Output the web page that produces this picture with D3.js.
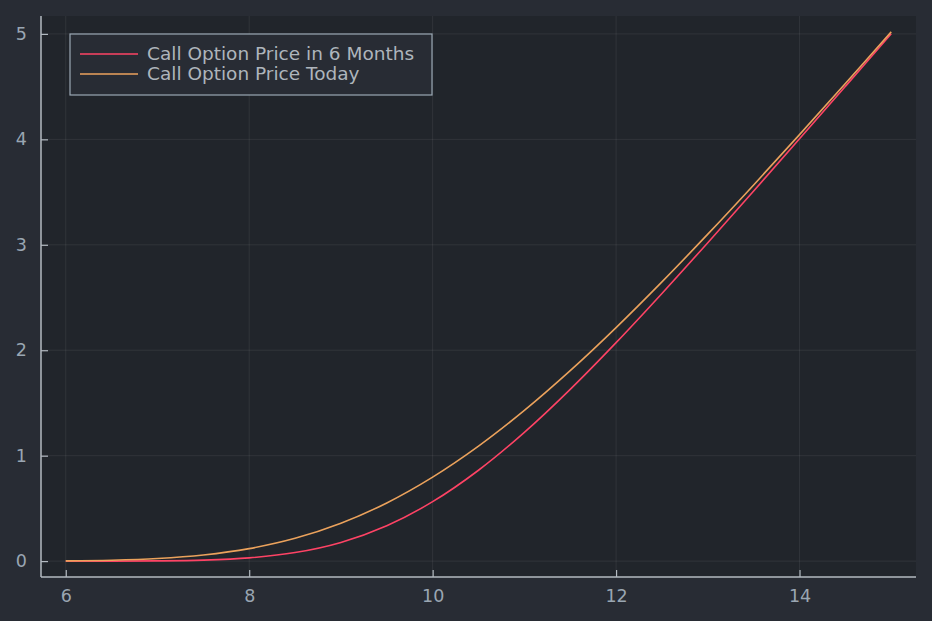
<!DOCTYPE html>
<html>
<head>
<meta charset="utf-8">
<script src="https://cdn.jsdelivr.net/npm/d3@7"></script>
<style>
  html, body { margin: 0; padding: 0; background: #282c34; }
  svg { display: block; }
  text { font-family: "DejaVu Sans", sans-serif; }
</style>
</head>
<body>
<svg id="chart" width="932" height="621"></svg>
<script>
// Stock prices (x) at which the call price is read
const stockPrices = [6, 6.5, 7, 7.5, 8, 8.5, 9, 9.5, 10, 10.5, 11, 11.5, 12, 12.5, 13, 13.5, 14, 14.5, 15];
// Call option price in 6 months
const priceIn6Months = [0.0000, 0.0004, 0.0022, 0.0095, 0.0309, 0.0810, 0.1773, 0.3353, 0.5637, 0.8618, 1.2211, 1.6290, 2.0720, 2.5387, 3.0200, 3.5100, 4.0048, 4.5023, 5.0011];
// Call option price today
const priceToday = [0.0026, 0.0089, 0.0248, 0.0581, 0.1186, 0.2161, 0.3589, 0.5519, 0.7966, 1.0906, 1.4292, 1.8062, 2.2147, 2.6482, 3.1009, 3.5678, 4.0450, 4.5296, 5.0192];
const seriesNames = ["Call Option Price in 6 Months", "Call Option Price Today"];
const seriesColors = ["#fe4365", "#eba25c"];
const xTicks = [6, 8, 10, 12, 14];
const yTicks = [0, 1, 2, 3, 4, 5];

(function () {
const svg = d3.select("#chart");
const W = 932, H = 621;
const pL = 41, pR = 916, pT = 16, pB = 577;

svg.append("rect").attr("width", W).attr("height", H).attr("fill", "#282c34");
svg.append("rect").attr("x", pL).attr("y", pT).attr("width", pR - pL).attr("height", pB - pT).attr("fill", "#21252b");

const xMin = d3.min(stockPrices), xMax = d3.max(stockPrices);
const xPad = (xMax - xMin) * 0.03;
const allY = priceIn6Months.concat(priceToday);
const yMin = d3.min(allY), yMax = d3.max(allY);
const yPad = (yMax - yMin) * 0.03;

const x = d3.scaleLinear().domain([xMin - xPad, xMax + xPad]).range([pL, pR]);
const y = d3.scaleLinear().domain([yMin - yPad, yMax + yPad]).range([pB, pT]);

// grid
const grid = svg.append("g");
grid.selectAll(".gx").data(xTicks).enter().append("line")
  .attr("x1", d => x(d)).attr("x2", d => x(d)).attr("y1", pT).attr("y2", pB)
  .attr("stroke", "#ffffff").attr("stroke-opacity", 0.07).attr("stroke-width", 1);
grid.selectAll(".gy").data(yTicks).enter().append("line")
  .attr("x1", pL).attr("x2", pR).attr("y1", d => y(d)).attr("y2", d => y(d))
  .attr("stroke", "#ffffff").attr("stroke-opacity", 0.07).attr("stroke-width", 1);

// axes
const axisColor = "#b3bac1";
const tickColor = "#9aa6b2";
const xAxis = svg.append("g").attr("transform", `translate(0,${pB})`)
  .call(d3.axisBottom(x).tickValues(xTicks).tickSize(-7).tickPadding(13).tickFormat(d3.format("d")));
const yAxis = svg.append("g").attr("transform", `translate(${pL},0)`)
  .call(d3.axisLeft(y).tickValues(yTicks).tickSize(-7).tickPadding(14).tickFormat(d3.format("d")));
[xAxis, yAxis].forEach(g => {
  g.select(".domain").remove();
  g.selectAll(".tick line").attr("stroke", axisColor).attr("stroke-width", 1.2);
  g.selectAll(".tick text").attr("fill", tickColor).attr("font-size", 17.5).attr("font-family", "DejaVu Sans, sans-serif");
});
svg.append("line").attr("x1", pL).attr("x2", pL).attr("y1", pT).attr("y2", pB)
  .attr("stroke", axisColor).attr("stroke-width", 1.5);
svg.append("line").attr("x1", pL).attr("x2", pR).attr("y1", pB).attr("y2", pB)
  .attr("stroke", axisColor).attr("stroke-width", 1.5);

// lines
const line = d3.line().x((d, i) => x(stockPrices[i])).y(d => y(d)).curve(d3.curveCatmullRom.alpha(0.5));
[priceIn6Months, priceToday].forEach((s, i) => {
  svg.append("path").datum(s).attr("d", line).attr("fill", "none")
    .attr("stroke", seriesColors[i]).attr("stroke-width", 1.6);
});

// legend
const lg = svg.append("g");
lg.append("rect").attr("x", 70).attr("y", 34).attr("width", 362).attr("height", 61)
  .attr("fill", "#282c34").attr("stroke", "#9aa8b4").attr("stroke-width", 1.2);
seriesNames.forEach((name, i) => {
  const ly = 54 + i * 20;
  lg.append("line").attr("x1", 80).attr("x2", 138).attr("y1", ly).attr("y2", ly)
    .attr("stroke", seriesColors[i]).attr("stroke-width", 1.6);
  lg.append("text").attr("x", 147).attr("y", ly).attr("dy", "0.35em")
    .attr("fill", "#aeb5bc").attr("font-size", 18.5).text(name);
});
})();
</script>
</body>
</html>
